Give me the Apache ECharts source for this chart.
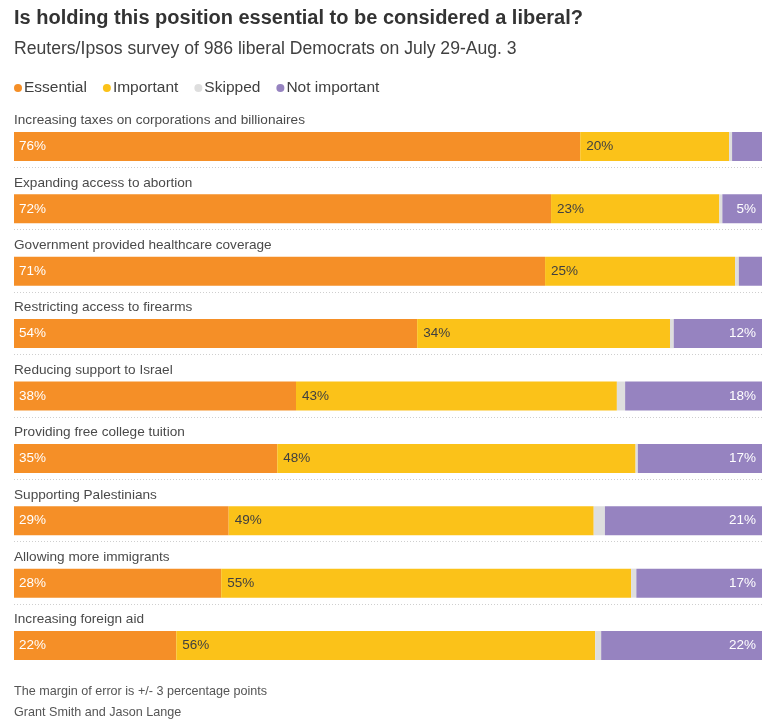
<!DOCTYPE html>
<html>
<head>
<meta charset="utf-8">
<script src="https://cdn.jsdelivr.net/npm/echarts@6/dist/echarts.min.js"></script>
<style>
	html, body { margin: 0; padding: 0; background: #fff; }
	#chart { width: 774px; height: 728px; }
</style>
</head>
<body>
<div id="chart"></div>
<script>
	// categories, top to bottom
	var categories = [
		'Increasing taxes on corporations and billionaires',
		'Expanding access to abortion',
		'Government provided healthcare coverage',
		'Restricting access to firearms',
		'Reducing support to Israel',
		'Providing free college tuition',
		'Supporting Palestinians',
		'Allowing more immigrants',
		'Increasing foreign aid'
	];

	// shares in percent
	var essential    = [75.7, 71.8, 71.0, 53.9, 37.7, 35.2, 28.7, 27.7, 21.7];
	var important    = [19.9, 22.5, 25.4, 33.8, 42.9, 47.9, 48.8, 54.8, 56.0];
	var skipped      = [0.4, 0.4, 0.5, 0.5, 1.1, 0.3, 1.5, 0.7, 0.8];
	var notImportant = [4.0, 5.3, 3.1, 11.8, 18.3, 16.6, 21.0, 16.8, 21.5];

	var FONT = 'Liberation Sans';
	var BAR_H = 29;

	var pctLabel = function(minShow){
		return function(p){
			return p.value >= minShow ? Math.round(p.value) + '%' : '';
		};
	};

	var makeSeries = function(name, data, color, label){
		return {
			name: name,
			type: 'bar',
			stack: 'total',
			barWidth: BAR_H,
			data: data,
			itemStyle: { color: color },
			emphasis: { disabled: true },
			label: label
		};
	};

	var series = [
		makeSeries('Essential', essential, '#F58F27', {
			show: true, position: 'insideLeft', distance: 5,
			color: '#fff', fontSize: 13.5, fontFamily: FONT,
			formatter: pctLabel(5)
		}),
		makeSeries('Important', important, '#FBC219', {
			show: true, position: 'insideLeft', distance: 6,
			color: '#404040', fontSize: 13.5, fontFamily: FONT,
			formatter: pctLabel(5)
		}),
		makeSeries('Skipped', skipped, '#DEDEDE', { show: false }),
		makeSeries('Not important', notImportant, '#9683C0', {
			show: true, position: 'insideRight', distance: 6,
			color: '#fff', fontSize: 13.5, fontFamily: FONT,
			formatter: pctLabel(5)
		}),
		{
			// dotted separators under each bar except the last
			type: 'custom',
			silent: true,
			data: categories.slice(0, -1).map(function(c, i){ return [0, i]; }),
			renderItem: function(params, api){
				var idx = api.value(1);
				var a = api.coord([0, idx]);
				var b = api.coord([100, idx]);
				var y = Math.round(a[1] + BAR_H / 2 + 6) + 0.5;
				return {
					type: 'line',
					shape: { x1: a[0], y1: y, x2: b[0], y2: y },
					style: { stroke: '#cfcfcf', lineWidth: 1, lineDash: [1, 2] }
				};
			},
			z: 1
		}
	];

	var option = {
		animation: false,
		textStyle: { fontFamily: FONT },
		title: [{
			left: 9, top: 3,
			text: 'Is holding this position essential to be considered a liberal?',
			subtext: 'Reuters/Ipsos survey of 986 liberal Democrats on July 29-Aug. 3',
			itemGap: 12,
			textStyle: { fontSize: 20, fontWeight: 'bold', color: '#333', fontFamily: FONT },
			subtextStyle: { fontSize: 17.6, color: '#404040', fontFamily: FONT }
		}, {
			left: 9, top: 680,
			text: 'The margin of error is +/- 3 percentage points',
			subtext: 'Grant Smith and Jason Lange',
			itemGap: 8,
			textStyle: { fontSize: 12.6, fontWeight: 'normal', color: '#555', fontFamily: FONT },
			subtextStyle: { fontSize: 12.6, color: '#555', fontFamily: FONT }
		}],
		legend: {
			left: 9, top: 75,
			icon: 'circle',
			itemWidth: 8, itemHeight: 8,
			itemGap: 16,
			selectedMode: false,
			data: ['Essential', 'Important', 'Skipped', 'Not important'],
			textStyle: { fontSize: 15.5, color: '#404040', fontFamily: FONT, padding: [0, 0, 0, -3] }
		},
		grid: { left: 14, right: 12, top: 115.3, bottom: 51.3, containLabel: false },
		xAxis: { type: 'value', min: 0, max: 100, show: false },
		yAxis: {
			type: 'category',
			inverse: true,
			data: categories,
			axisLine: { show: false },
			axisTick: { show: false },
			splitLine: { show: false },
			axisLabel: {
				inside: true,
				margin: 0,
				verticalAlign: 'bottom',
				lineHeight: 16,
				padding: [0, 0, 18, 0],
				fontSize: 13.6,
				color: '#4a4a4a',
				fontFamily: FONT
			}
		},
		series: series
	};

	var myChart = echarts.init(document.getElementById('chart'));
	myChart.setOption(option);
</script>
</body>
</html>
